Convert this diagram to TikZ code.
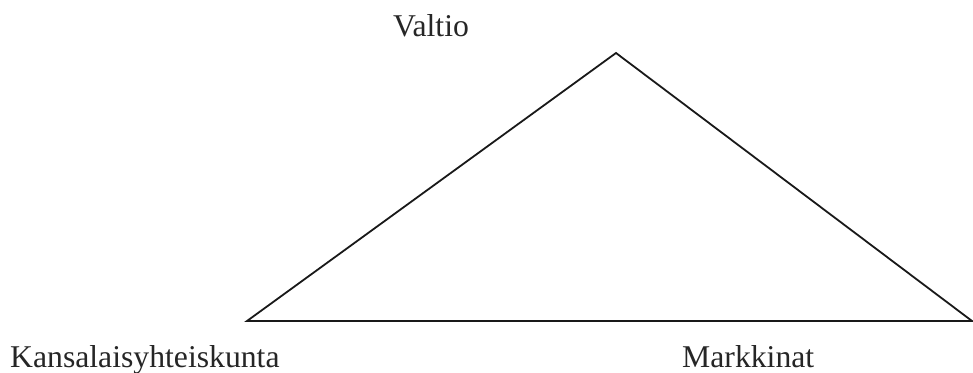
\documentclass[tikz,border=0pt]{standalone}
\usepackage{fontspec}
\setmainfont{Liberation Serif}
\begin{document}
\begin{tikzpicture}[x=1pt,y=1pt,
  lbl/.style={inner sep=0pt, anchor=base west, font=\fontsize{31.7}{36}\selectfont, text=black!85},
  edge/.style={line width=1.8pt, line join=miter, black!90}]
\useasboundingbox (0,0) rectangle (973,372);
\coordinate (top) at (616,319);
\coordinate (left) at (247,51);
\coordinate (right) at (972,51);
\draw[edge] (left) -- (top) -- (right) -- cycle;
\node[lbl] (valtio) at (393,335) {Valtio};
\node[lbl] (kansa) at (10,5) {Kansalaisyhteiskunta};
\node[lbl] (markkinat) at (682,5) {Markkinat};
\end{tikzpicture}
\end{document}
